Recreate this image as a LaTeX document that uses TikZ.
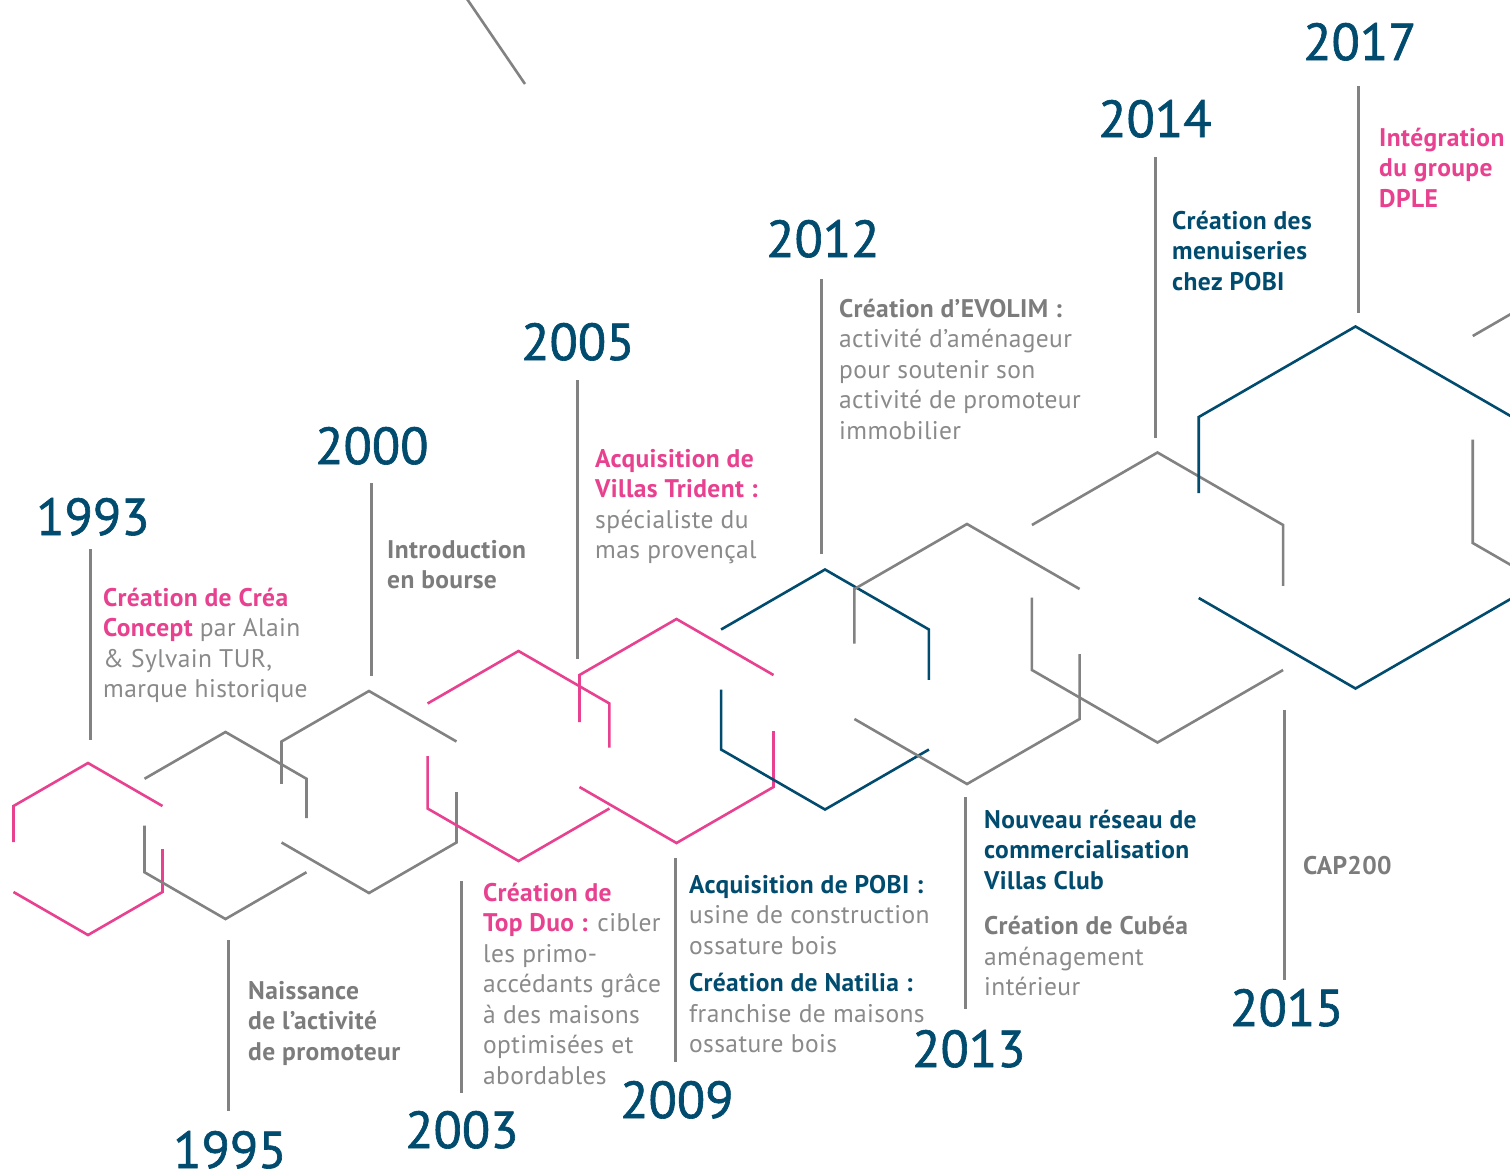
\documentclass[tikz,border=0pt]{standalone}
\usepackage{fontspec}
\setmainfont{PT Sans}
\definecolor{hblue}{HTML}{004B6E}
\definecolor{hpink}{HTML}{E8418F}
\definecolor{hgray}{HTML}{828282}
\definecolor{tgray}{HTML}{8A8A8A}
\definecolor{bgray}{HTML}{7C7C7C}
\newcommand{\bodyfont}{\fontsize{25.5}{30.5}\selectfont\addfontfeatures{LetterSpace=1.5}}
\newcommand{\blk}[1]{\parbox[t]{330pt}{\bodyfont\raggedright\leavevmode #1}}
\newcommand{\hexA}[4]{%
  \pgfmathsetmacro\hw{0.866*#3}%
  \pgfmathsetmacro\hr{0.5*#3}%
  \draw[hexline,#4] ({#1-\hw},{#2-\hr+0.42*#3}) -- ({#1-\hw},{#2-\hr}) -- (#1,{#2-#3}) -- ({#1+\hw},{#2-\hr});
  \draw[hexline,#4] ({#1+\hw},{#2}) -- ({#1+\hw},{#2+\hr}) -- (#1,{#2+#3}) -- ({#1-\hw},{#2+\hr});
}
\newcommand{\hexB}[4]{%
  \pgfmathsetmacro\hw{0.866*#3}%
  \pgfmathsetmacro\hr{0.5*#3}%
  \draw[hexline,#4] ({#1-\hw},{#2-\hr}) -- (#1,{#2-#3}) -- ({#1+\hw},{#2-\hr}) -- ({#1+\hw},{#2-\hr+0.42*#3});
  \draw[hexline,#4] ({#1-\hw},{#2}) -- ({#1-\hw},{#2+\hr}) -- (#1,{#2+#3}) -- ({#1+\hw},{#2+\hr});
}
\tikzset{
  hexline/.style={line width=2.6pt, line join=miter},
  stem/.style={draw=hgray, line width=3pt},
  yearlab/.style={anchor=base west, inner sep=0pt, text=hblue, font=\fontsize{52}{52}\selectfont\addfontfeatures{FakeBold=1.2}},
  txt/.style={anchor=base west, inner sep=0pt, text=tgray},
}
\begin{document}
\begin{tikzpicture}[x=1pt,y=-1pt]
\useasboundingbox (0,0) rectangle (1510,1171);
\clip (0,0) rectangle (1510,1171);
\fill[white] (0,0) rectangle (1510,1171);

% hexagons
\hexA{88}{849}{86}{hpink}
\hexB{225.5}{825.5}{93.5}{hgray}
\hexA{369}{792}{101}{hgray}
\hexB{518.5}{756}{105}{hpink}
\hexA{676.5}{731}{112}{hpink}
\hexB{825}{689.5}{120}{hblue}
\hexA{967}{654}{130}{hgray}
\hexB{1157.5}{597.5}{145}{hgray}
\hexA{1355.5}{507.5}{181}{hblue}
\hexB{1652}{439.5}{207}{hgray}
\draw[hexline,hgray] (465,-4) -- (525,84);

% years
\node[yearlab] (y1993) at (36,535) {1993};
\node[yearlab] (y1995) at (173,1168) {1995};
\node[yearlab] (y2000) at (315,464) {2000};
\node[yearlab] (y2003) at (405,1148) {2003};
\node[yearlab] (y2005) at (521,360) {2005};
\node[yearlab] (y2009) at (620,1118) {2009};
\node[yearlab] (y2012) at (766,257) {2012};
\node[yearlab] (y2013) at (912,1067) {2013};
\node[yearlab] (y2014) at (1098,137) {2014};
\node[yearlab] (y2015) at (1230,1026) {2015};
\node[yearlab] (y2017) at (1303,60) {2017};

% stems
\coordinate (s93a) at (90,549);   \coordinate (s93b) at (90,740);
\coordinate (s95a) at (228,940);  \coordinate (s95b) at (228,1111);
\coordinate (s00a) at (371,483);  \coordinate (s00b) at (371,676);
\coordinate (s03a) at (461,881);  \coordinate (s03b) at (461,1093);
\coordinate (s05a) at (577,380);  \coordinate (s05b) at (577,659);
\coordinate (s09a) at (675,858);  \coordinate (s09b) at (675,1062);
\coordinate (s12a) at (821,279);  \coordinate (s12b) at (821,554);
\coordinate (s13a) at (965,797);  \coordinate (s13b) at (965,1009);
\coordinate (s14a) at (1155,157); \coordinate (s14b) at (1155,438);
\coordinate (s15a) at (1284,710); \coordinate (s15b) at (1284,980);
\coordinate (s17a) at (1358,86);  \coordinate (s17b) at (1358,313);
\foreach \s in {93,95,00,03,05,09,12,13,14,15,17}{\draw[stem] (s\s a) -- (s\s b);}

% texts
\node[txt] (t1993) at (103,606) {\blk{{\bfseries\color{hpink}Création de Créa\\Concept} par Alain\\\& Sylvain TUR,\\marque historique}};
\node[txt] (t1995) at (248,999) {\blk{{\bfseries\color{bgray}Naissance\\de l’activité\\de promoteur}}};
\node[txt] (t2000) at (387,558) {\blk{{\bfseries\color{bgray}Introduction\\en bourse}}};
\node[txt] (t2003) at (483,901) {\blk{{\bfseries\color{hpink}Création de\\Top Duo :} cibler\\les primo-\\accédants grâce\\à des maisons\\optimisées et\\abordables}};
\node[txt] (t2005) at (595,467) {\blk{{\bfseries\color{hpink}Acquisition de\\Villas Trident :}\\spécialiste du\\mas provençal}};
\node[txt] (t2009) at (689,893) {\blk{{\bfseries\color{hblue}Acquisition de POBI :}\\usine de construction\\ossature bois\\[7pt]{\bfseries\color{hblue}Création de Natilia :}\\franchise de maisons\\ossature bois}};
\node[txt] (t2012) at (839,317) {\blk{{\bfseries\color{bgray}Création d’EVOLIM :}\\activité d’aménageur\\pour soutenir son\\activité de promoteur\\immobilier}};
\node[txt] (t2013) at (984,828) {\blk{{\bfseries\color{hblue}Nouveau réseau de\\commercialisation\\Villas Club}\\[15pt]{\bfseries\color{bgray}Création de Cubéa}\\aménagement\\intérieur}};
\node[txt] (t2014) at (1172,229) {\blk{{\bfseries\color{hblue}Création des\\menuiseries\\chez POBI}}};
\node[txt] (t2015) at (1303,874) {\blk{{\bfseries\color{bgray}CAP200}}};
\node[txt] (t2017) at (1379,146) {\blk{{\bfseries\color{hpink}Intégration\\du groupe\\DPLE}}};
\end{tikzpicture}
\end{document}
